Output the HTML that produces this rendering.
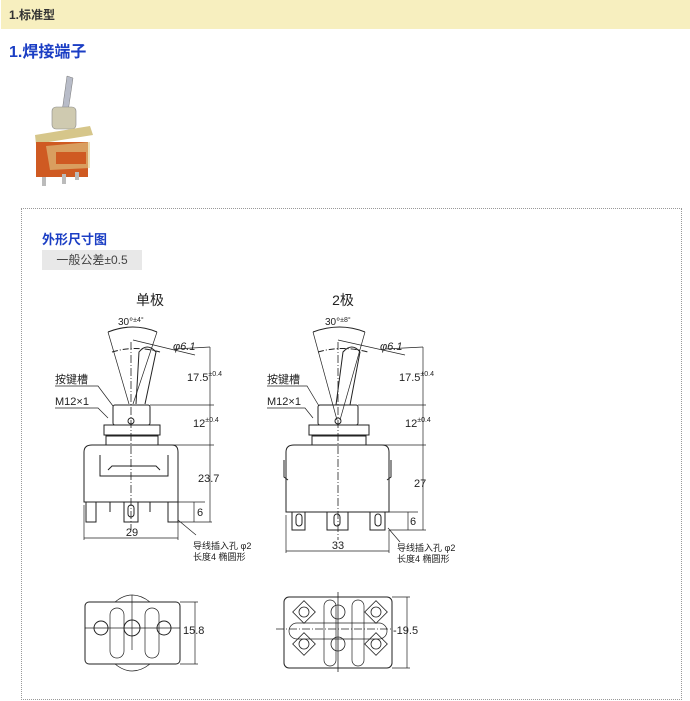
<!DOCTYPE html>
<html><head><meta charset="utf-8"><style>
body{margin:0;width:690px;height:701px;background:#fff;position:relative;overflow:hidden;font-family:"Liberation Sans","Noto Sans CJK SC",sans-serif}
.hd{position:absolute;left:1px;top:0;width:689px;height:29px;background:#f7efbf;font-size:12px;font-weight:bold;color:#333;line-height:30px;padding-left:8px;box-sizing:border-box}
.t1{position:absolute;left:9px;top:38px;font-size:16px;font-weight:bold;color:#1b3ec4}
.box{position:absolute;left:21px;top:208px;width:661px;height:492px;border:1px dotted #999;box-sizing:border-box}
.t2{position:absolute;left:42px;top:229px;font-size:13px;font-weight:bold;color:#1b3ec4}
.tol{position:absolute;left:42px;top:250px;width:100px;height:20px;background:#e8e8e8;font-size:12px;color:#444;line-height:20px;text-align:center}
svg{position:absolute;left:0;top:0}
</style></head><body>
<div class="hd">1.标准型</div>
<div class="t1">1.焊接端子</div>
<div class="box"></div>
<div class="t2">外形尺寸图</div>
<div class="tol">一般公差±0.5</div>
<svg width="690" height="701" viewBox="0 0 690 701" font-family="Liberation Sans,Noto Sans CJK SC,sans-serif">
<!-- product photo -->
<g>
<polygon points="67,76 73,78 68,112 62,112" fill="#b8bcc8" stroke="#777" stroke-width="0.5"/>
<rect x="52" y="107" width="24" height="22" rx="4" fill="#cfcab0" stroke="#888" stroke-width="0.6"/>
<polygon points="35,135 90,126 93,135 36,144" fill="#d6c68a"/>
<rect x="36" y="142" width="52" height="35" fill="#cf5a22"/>
<polygon points="46,146 90,142 90,168 50,170" fill="#e0cc88" opacity="0.6"/>
<rect x="56" y="152" width="30" height="12" fill="#cf5a22"/>
<rect x="42" y="177" width="4" height="9" fill="#bbb"/>
<rect x="62" y="174" width="4" height="10" fill="#bbb"/>
<rect x="75" y="172" width="4" height="8" fill="#bbb"/>
</g>
<g stroke="#222" stroke-width="1" fill="none">
<path d="M108,332 Q133,322 157,332"/>
<path d="M112,352 Q135,345 160,352" stroke-dasharray="6,2,1,2"/>
<line x1="108" y1="332" x2="129" y2="404" stroke-width="0.7"/>
<line x1="157" y1="332" x2="133" y2="404" stroke-width="0.7"/>
<path d="M136,404 L139,352 Q147,342 156,352 L145,404"/>
<line x1="133" y1="340" x2="195" y2="355" stroke-width="0.7"/>
<line x1="175" y1="349" x2="210" y2="347" stroke-width="0.7"/>
<line x1="131" y1="342" x2="131" y2="530" stroke-dasharray="8,2,1,2" stroke-width="0.8"/>
<rect x="113" y="405" width="37" height="20" rx="2"/>
<circle cx="131" cy="421" r="3"/>
<rect x="104" y="425" width="56" height="10"/>
<rect x="106" y="436" width="52" height="9"/>
<path d="M84,502 L84,452 Q84,445 92,445 L172,445 Q178,445 178,452 L178,502 Z"/>
<path d="M100,455 L100,476 L168,476 L168,455 M108,470 L112,466 L156,466 L160,470"/>
<path d="M86,502 L86,522 L96,522 L96,502 M168,502 L168,522 L178,522 L178,502 M110,502 L110,512 M150,502 L150,512 M124,502 L124,522 L138,522 L138,502"/>
<rect x="128" y="505" width="6" height="12" rx="3"/>
<line x1="150" y1="405" x2="214" y2="405" stroke-width="0.7"/>
<line x1="160" y1="445" x2="214" y2="445" stroke-width="0.7"/>
<line x1="178" y1="502" x2="205" y2="502" stroke-width="0.7"/>
<line x1="178" y1="522" x2="212" y2="522" stroke-width="0.7"/>
<line x1="210" y1="347" x2="210" y2="522" stroke-width="0.7"/>
<line x1="194" y1="502" x2="194" y2="522" stroke-width="0.7"/>
<line x1="84" y1="505" x2="84" y2="540" stroke-width="0.7"/>
<line x1="178" y1="522" x2="178" y2="540" stroke-width="0.7"/>
<line x1="84" y1="538" x2="178" y2="538" stroke-width="0.7"/>
<path d="M55,386 L98,386 L113,406 M55,408 L98,408 L108,418" stroke-width="0.7"/>
<line x1="178" y1="520" x2="196" y2="535" stroke-width="0.7"/>
<path d="M313,332 Q340,322 365,332"/>
<path d="M318,352 Q342,345 368,352" stroke-dasharray="6,2,1,2"/>
<line x1="313" y1="332" x2="337" y2="420" stroke-width="0.7"/>
<line x1="365" y1="332" x2="340" y2="420" stroke-width="0.7"/>
<path d="M336,405 L343,352 Q352,342 360,352 L350,405"/>
<line x1="338" y1="340" x2="405" y2="355" stroke-width="0.7"/>
<line x1="385" y1="349" x2="423" y2="347" stroke-width="0.7"/>
<line x1="338" y1="342" x2="338" y2="540" stroke-dasharray="8,2,1,2" stroke-width="0.8"/>
<rect x="318" y="405" width="40" height="20" rx="2"/>
<circle cx="338" cy="421" r="3"/>
<rect x="309" y="425" width="60" height="10"/>
<rect x="312" y="436" width="54" height="9"/>
<path d="M286,512 L286,452 Q286,445 294,445 L382,445 Q389,445 389,452 L389,512 Z"/>
<path d="M284,460 L284,477 L288,480 M391,460 L391,477 L387,480"/>
<path d="M292,512 L292,530 L305,530 L305,512 M327,512 L327,530 L348,530 L348,512 M370,512 L370,530 L385,530 L385,512"/>
<rect x="296" y="514" width="6" height="12" rx="3"/><rect x="334" y="514" width="6" height="12" rx="3"/><rect x="375" y="514" width="6" height="12" rx="3"/>
<line x1="358" y1="405" x2="426" y2="405" stroke-width="0.7"/>
<line x1="369" y1="445" x2="426" y2="445" stroke-width="0.7"/>
<line x1="389" y1="512" x2="418" y2="512" stroke-width="0.7"/>
<line x1="389" y1="530" x2="426" y2="530" stroke-width="0.7"/>
<line x1="423" y1="347" x2="423" y2="530" stroke-width="0.7"/>
<line x1="408" y1="512" x2="408" y2="530" stroke-width="0.7"/>
<line x1="286" y1="515" x2="286" y2="553" stroke-width="0.7"/>
<line x1="389" y1="530" x2="389" y2="553" stroke-width="0.7"/>
<line x1="286" y1="551" x2="389" y2="551" stroke-width="0.7"/>
<path d="M267,386 L307,386 L319,406 M267,408 L305,408 L313,418" stroke-width="0.7"/>
<line x1="388" y1="528" x2="400" y2="542" stroke-width="0.7"/>
<rect x="85" y="602" width="95" height="62" rx="4"/>
<path d="M115,602 Q132,588 150,602 M115,664 Q132,678 150,664" stroke-width="0.7"/>
<rect x="110" y="608" width="14" height="50" rx="7" stroke-width="0.7"/>
<rect x="145" y="608" width="14" height="50" rx="7" stroke-width="0.7"/>
<circle cx="101" cy="628" r="7"/><circle cx="132" cy="628" r="8"/><circle cx="164" cy="628" r="7"/>
<line x1="85" y1="628" x2="180" y2="628" stroke-width="0.7"/>
<line x1="132" y1="595" x2="132" y2="650" stroke-width="0.7"/>
<line x1="180" y1="602" x2="198" y2="602" stroke-width="0.7"/>
<line x1="180" y1="664" x2="198" y2="664" stroke-width="0.7"/>
<line x1="195" y1="602" x2="195" y2="664" stroke-width="0.7"/>
<rect x="284" y="597" width="108" height="71" rx="5"/>
<rect x="289" y="623" width="98" height="16" rx="8" stroke-width="0.7"/>
<rect x="324" y="600" width="12" height="66" rx="6" stroke-width="0.7"/>
<rect x="352" y="600" width="12" height="66" rx="6" stroke-width="0.7"/>
<g stroke-width="0.8">
<rect x="296" y="604" width="16" height="16" transform="rotate(45 304 612)"/><circle cx="304" cy="612" r="5"/>
<circle cx="338" cy="612" r="7"/>
<rect x="368" y="604" width="16" height="16" transform="rotate(45 376 612)"/><circle cx="376" cy="612" r="5"/>
<rect x="296" y="636" width="16" height="16" transform="rotate(45 304 644)"/><circle cx="304" cy="644" r="5"/>
<circle cx="338" cy="644" r="7"/>
<rect x="368" y="636" width="16" height="16" transform="rotate(45 376 644)"/><circle cx="376" cy="644" r="5"/>
</g>
<line x1="276" y1="629" x2="392" y2="629" stroke-dasharray="8,2,1,2" stroke-width="0.8"/>
<line x1="338" y1="592" x2="338" y2="672" stroke-width="0.8"/>
<line x1="392" y1="597" x2="410" y2="597" stroke-width="0.7"/>
<line x1="392" y1="668" x2="410" y2="668" stroke-width="0.7"/>
<line x1="407" y1="597" x2="407" y2="668" stroke-width="0.7"/>
</g>
<g fill="#222" font-size="11">
<text x="150" y="305" font-size="14" text-anchor="middle">单极</text>
<text x="118" y="325" font-size="10">30°<tspan font-size="7" dy="-3">±4°</tspan></text>
<text x="173" y="350" font-style="italic">φ6.1</text>
<text x="187" y="381">17.5<tspan font-size="7" dy="-5">±0.4</tspan></text>
<text x="193" y="427">12<tspan font-size="7" dy="-5">±0.4</tspan></text>
<text x="198" y="482">23.7</text>
<text x="197" y="516">6</text>
<text x="132" y="536" text-anchor="middle">29</text>
<text x="55" y="383">按键槽</text>
<text x="55" y="405">M12×1</text>
<text x="193" y="549" font-size="9">导线插入孔 φ2</text>
<text x="193" y="560" font-size="9">长度4 椭圆形</text>
<text x="343" y="305" font-size="14" text-anchor="middle">2极</text>
<text x="325" y="325" font-size="10">30°<tspan font-size="7" dy="-3">±8°</tspan></text>
<text x="380" y="350" font-style="italic">φ6.1</text>
<text x="399" y="381">17.5<tspan font-size="7" dy="-5">±0.4</tspan></text>
<text x="405" y="427">12<tspan font-size="7" dy="-5">±0.4</tspan></text>
<text x="414" y="487">27</text>
<text x="410" y="525">6</text>
<text x="338" y="549" text-anchor="middle">33</text>
<text x="267" y="383">按键槽</text>
<text x="267" y="405">M12×1</text>
<text x="397" y="551" font-size="9">导线插入孔 φ2</text>
<text x="397" y="562" font-size="9">长度4 椭圆形</text>
<text x="183" y="634">15.8</text>
<text x="393" y="634">-19.5</text>
</g>
</svg>
</body></html>
